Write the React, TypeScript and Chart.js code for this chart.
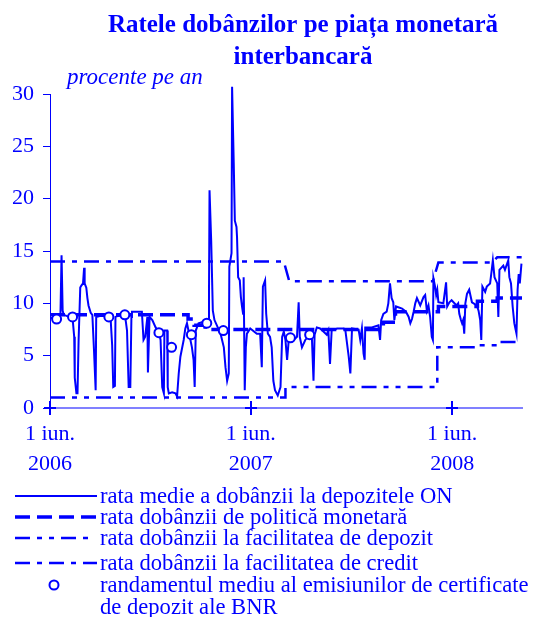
import React, { useEffect, useRef } from "react";
import { Chart, registerables } from "chart.js";

Chart.register(...registerables);

const BLUE = "#0000ff";
const AXIS_LIGHT = "#8080ff";
const SERIF = "'Liberation Serif', 'Times New Roman', Times, serif";

const titleLines = ["Ratele dobânzilor pe piața monetară", "interbancară"];
const unitLabel = "procente pe an";
const legendLabels = [
  ["rata medie a dobânzii la depozitele ON"],
  ["rata dobânzii de politică monetară"],
  ["rata dobânzii la facilitatea de depozit"],
  ["rata dobânzii la facilitatea de credit"],
  ["randamentul mediu al emisiunilor de certificate", "de depozit ale BNR"],
];

// x values are days since 1 June 2006
const xEndDay = 858;
const xTickDays = [0, 365, 731];
const xTickLabels = [
  ["1 iun.", "2006"],
  ["1 iun.", "2007"],
  ["1 iun.", "2008"],
];
const yMin = 0;
const yMax = 30;
const yStep = 5;

// overnight deposit average rate
const onDays = [
  1, 10, 19, 21, 23, 25, 30, 41, 44, 45, 48, 50, 52, 55, 57, 60, 62, 63, 66, 68,
  70, 74, 77, 80, 83, 84, 92, 101, 110, 113, 115, 118, 119, 124, 136, 138, 140, 143, 146, 148,
  149, 167, 170, 173, 177, 178, 181, 186, 192, 198, 201, 204, 207, 208, 213, 214, 216, 222, 228, 231,
  234, 237, 243, 246, 249, 258, 261, 263, 265, 270, 276, 284, 288, 289, 290, 293, 296, 299, 310, 316,
  319, 322, 325, 326, 330, 331, 334, 336, 339, 340, 342, 345, 347, 349, 351, 352, 354, 356, 358, 364,
  376, 382, 385, 387, 391, 393, 396, 400, 403, 406, 409, 414, 419, 422, 425, 428, 431, 434, 437, 443,
  449, 452, 454, 458, 464, 472, 476, 479, 481, 485, 491, 497, 503, 506, 509, 512, 522, 534, 537, 543,
  546, 549, 561, 564, 567, 570, 572, 573, 585, 597, 600, 602, 606, 612, 615, 618, 621, 624, 626, 629,
  640, 647, 652, 655, 658, 661, 664, 667, 673, 679, 682, 685, 688, 691, 694, 696, 697, 700, 702, 704,
  706, 715, 720, 722, 726, 730, 739, 742, 744, 747, 749, 751, 753, 755, 758, 762, 767, 776, 779, 782,
  784, 786, 791, 794, 800, 803, 805, 808, 813, 815, 817, 824, 827, 833, 835, 838, 841, 844, 846, 848,
  850, 852, 854, 857,
];
const onRates = [
  8.6, 8.6, 8.9, 14.6, 9.3, 8.9, 8.8, 8.6, 6.8, 2.9, 1.4, 1.4, 6.5, 11.5, 11.7, 11.9, 13.4, 11.9, 11.5, 10.5,
  9.8, 9.1, 8.9, 5.5, 1.7, 8.7, 8.8, 8.8, 8.7, 6.0, 2.0, 2.1, 8.7, 8.8, 8.9, 8.2, 7.4, 2.0, 2.0, 8.7,
  9.2, 9.2, 6.5, 6.8, 8.7, 3.4, 8.7, 8.4, 7.7, 7.2, 6.5, 2.0, 1.4, 7.4, 7.4, 2.0, 1.4, 1.5, 1.4, 1.1,
  3.3, 4.9, 6.5, 7.6, 8.1, 5.8, 4.6, 2.0, 7.4, 8.1, 8.2, 8.1, 8.4, 10.6, 20.8, 16.0, 9.3, 8.4, 7.1, 5.8,
  3.9, 2.6, 3.3, 13.5, 14.8, 30.7, 23.4, 17.9, 17.3, 16.3, 12.5, 12.2, 10.6, 9.7, 9.0, 12.5, 1.7, 5.8, 7.1, 7.6,
  7.1, 7.1, 3.9, 11.6, 12.2, 9.0, 7.1, 6.8, 5.8, 2.6, 1.7, 1.2, 2.0, 6.8, 7.3, 6.5, 4.6, 6.5, 6.7, 6.5,
  6.8, 10.1, 6.8, 5.8, 6.5, 7.0, 6.8, 2.6, 7.0, 7.7, 7.6, 7.3, 7.0, 7.4, 4.2, 7.4, 7.6, 7.6, 7.4, 4.9,
  3.3, 7.6, 7.5, 6.5, 7.6, 5.2, 4.6, 7.7, 7.7, 7.9, 6.5, 8.4, 9.0, 9.2, 10.0, 11.9, 10.5, 10.1, 8.4, 9.7,
  9.5, 9.2, 8.7, 8.1, 8.5, 9.2, 10.0, 10.5, 9.8, 10.6, 10.8, 9.3, 9.8, 8.7, 6.8, 6.5, 12.4, 11.6, 10.8, 11.3,
  10.1, 10.0, 12.0, 9.7, 10.1, 10.3, 9.8, 10.0, 9.0, 8.4, 8.1, 8.4, 7.1, 10.0, 10.9, 11.3, 10.1, 9.8, 9.3, 8.4,
  6.5, 11.6, 11.1, 11.6, 11.9, 13.2, 14.1, 12.5, 11.9, 8.7, 13.2, 13.6, 13.2, 14.1, 12.5, 11.9, 9.7, 8.1, 7.6, 7.1,
  11.3, 12.8, 11.9, 13.8,
];

// monetary policy rate (value valid from the given day)
const policyDays = [0, 251, 262, 282, 606, 628, 706, 777, 813];
const policyRates = [8.9, 8.5, 7.9, 7.5, 8.2, 9.2, 9.7, 10.2, 10.5];

// deposit facility rate
const depositDays = [0, 428, 704, 777, 813];
const depositRates = [1.0, 2.0, 5.8, 6.0, 6.3];

// credit facility rate
const creditDays = [0, 435, 706, 813];
const creditRates = [14.0, 12.1, 13.9, 14.4];

// BNR deposit certificates average yield
const cdDays = [12, 41, 107, 136, 198, 221, 257, 285, 315, 437, 472];
const cdYields = [8.5, 8.7, 8.7, 8.9, 7.2, 5.8, 7.0, 8.1, 7.4, 6.7, 7.0];

const styles = {
  on: { width: 2, dash: [] as number[] },
  policy: { width: 3.5, dash: [15, 7] },
  deposit: { width: 2.5, dash: [15, 7, 5, 7, 5, 7] },
  credit: { width: 2.5, dash: [15, 7, 5, 7] },
};

function stepPoints(days: number[], rates: number[], end: number, ramp = 0) {
  const pts: { x: number; y: number }[] = [];
  for (let i = 0; i < days.length; i++) {
    if (i > 0) pts.push({ x: days[i] - ramp, y: rates[i - 1] });
    pts.push({ x: days[i], y: rates[i] });
  }
  pts.push({ x: end, y: rates[rates.length - 1] });
  return pts;
}

const decoPlugin = {
  id: "deco",
  afterDraw(chart: any) {
    const ctx: CanvasRenderingContext2D = chart.ctx;
    const xs = chart.scales.x;
    const ys = chart.scales.y;
    ctx.save();
    // tick crosses on the x axis
    const y0 = ys.getPixelForValue(0);
    ctx.strokeStyle = BLUE;
    ctx.lineWidth = 2;
    ctx.setLineDash([]);
    xTickDays.forEach((d) => {
      const px = Math.round(xs.getPixelForValue(d));
      ctx.beginPath();
      ctx.moveTo(px, y0 - 7);
      ctx.lineTo(px, y0 + 7);
      ctx.moveTo(px - 6, y0);
      ctx.lineTo(px + 6, y0);
      ctx.stroke();
    });
    // title
    ctx.fillStyle = BLUE;
    ctx.textAlign = "center";
    ctx.textBaseline = "alphabetic";
    ctx.font = `bold 25px ${SERIF}`;
    ctx.fillText(titleLines[0], 303, 32);
    ctx.fillText(titleLines[1], 303, 64);
    // unit
    ctx.textAlign = "left";
    ctx.font = `italic 23px ${SERIF}`;
    ctx.fillText(unitLabel, 67, 84);
    // legend
    const rows = [496, 517, 538, 563, 585];
    const sampleStyles = [styles.on, styles.policy, styles.deposit, styles.credit];
    const sampleEnds = [97, 97, 88, 97];
    sampleStyles.forEach((s, i) => {
      ctx.beginPath();
      ctx.lineWidth = s.width;
      ctx.setLineDash(s.dash);
      ctx.moveTo(15, rows[i]);
      ctx.lineTo(sampleEnds[i], rows[i]);
      ctx.stroke();
    });
    ctx.setLineDash([]);
    ctx.beginPath();
    ctx.lineWidth = 2;
    ctx.fillStyle = "#ffffff";
    ctx.arc(54, rows[4], 4.5, 0, Math.PI * 2);
    ctx.fill();
    ctx.stroke();
    ctx.fillStyle = BLUE;
    ctx.font = `22.6px ${SERIF}`;
    legendLabels.forEach((lines, i) => {
      lines.forEach((t, j) => {
        ctx.fillText(t, 100, rows[i] + 7 + j * 22);
      });
    });
    ctx.restore();
  },
};

export default function App() {
  const ref = useRef<HTMLCanvasElement>(null);
  useEffect(() => {
    const chart = new Chart(ref.current as HTMLCanvasElement, {
      type: "line",
      data: {
        datasets: [
          {
            label: legendLabels[4].join(" "),
            data: cdDays.map((d, i) => ({ x: d, y: cdYields[i] })),
            showLine: false,
            pointStyle: "circle",
            pointRadius: 4.5,
            pointBorderWidth: 2,
            pointBackgroundColor: "#ffffff",
            pointBorderColor: BLUE,
            borderColor: BLUE,
            order: 0,
          },
          {
            label: legendLabels[0][0],
            data: onDays.map((d, i) => ({ x: d, y: onRates[i] })),
            borderColor: BLUE,
            borderWidth: styles.on.width,
            pointRadius: 0,
            tension: 0,
            clip: false as any,
            order: 1,
          },
          {
            label: legendLabels[1][0],
            data: stepPoints(policyDays, policyRates, xEndDay),
            borderColor: BLUE,
            borderWidth: styles.policy.width,
            borderDash: styles.policy.dash,
            pointRadius: 0,
            order: 2,
          },
          {
            label: legendLabels[2][0],
            data: stepPoints(depositDays, depositRates, xEndDay),
            borderColor: BLUE,
            borderWidth: styles.deposit.width,
            borderDash: styles.deposit.dash,
            pointRadius: 0,
            order: 3,
          },
          {
            label: legendLabels[3][0],
            data: stepPoints(creditDays, creditRates, xEndDay, 10),
            borderColor: BLUE,
            borderWidth: styles.credit.width,
            borderDash: styles.credit.dash,
            pointRadius: 0,
            order: 4,
          },
        ],
      },
      options: {
        responsive: false,
        devicePixelRatio: 1,
        animation: false,
        events: [],
        layout: { padding: { top: 94, left: 0, right: 13, bottom: 129 } },
        plugins: {
          legend: { display: false },
          tooltip: { enabled: false },
          title: { display: false },
        },
        scales: {
          x: {
            type: "linear",
            min: 0,
            max: xEndDay,
            afterBuildTicks: (scale: any) => {
              scale.ticks = xTickDays.map((v) => ({ value: v }));
            },
            afterFit: (scale: any) => {
              scale.height = 80;
            },
            ticks: {
              autoSkip: false,
              maxRotation: 0,
              minRotation: 0,
              padding: 11,
              color: BLUE,
              font: { family: SERIF, size: 22, lineHeight: "30px" },
              callback: (_v: any, i: number) => xTickLabels[i],
            },
            grid: { display: false, drawTicks: false },
            border: { display: true, color: AXIS_LIGHT, width: 2 },
          },
          y: {
            min: yMin,
            max: yMax,
            afterFit: (scale: any) => {
              scale.width = 50;
            },
            ticks: {
              stepSize: yStep,
              padding: 9,
              color: BLUE,
              font: { family: SERIF, size: 22 },
            },
            grid: {
              display: true,
              drawOnChartArea: false,
              drawTicks: true,
              tickLength: 7,
              color: BLUE,
              lineWidth: 1,
            },
            border: { display: true, color: BLUE, width: 1 },
          },
        },
      },
      plugins: [decoPlugin],
    } as any);
    return () => chart.destroy();
  }, []);
  return (
    <div style={{ position: "absolute", left: 0, top: 0, width: 535, height: 617, background: "#ffffff" }}>
      <canvas ref={ref} width={535} height={617} style={{ display: "block", width: 535, height: 617 }} />
    </div>
  );
}
